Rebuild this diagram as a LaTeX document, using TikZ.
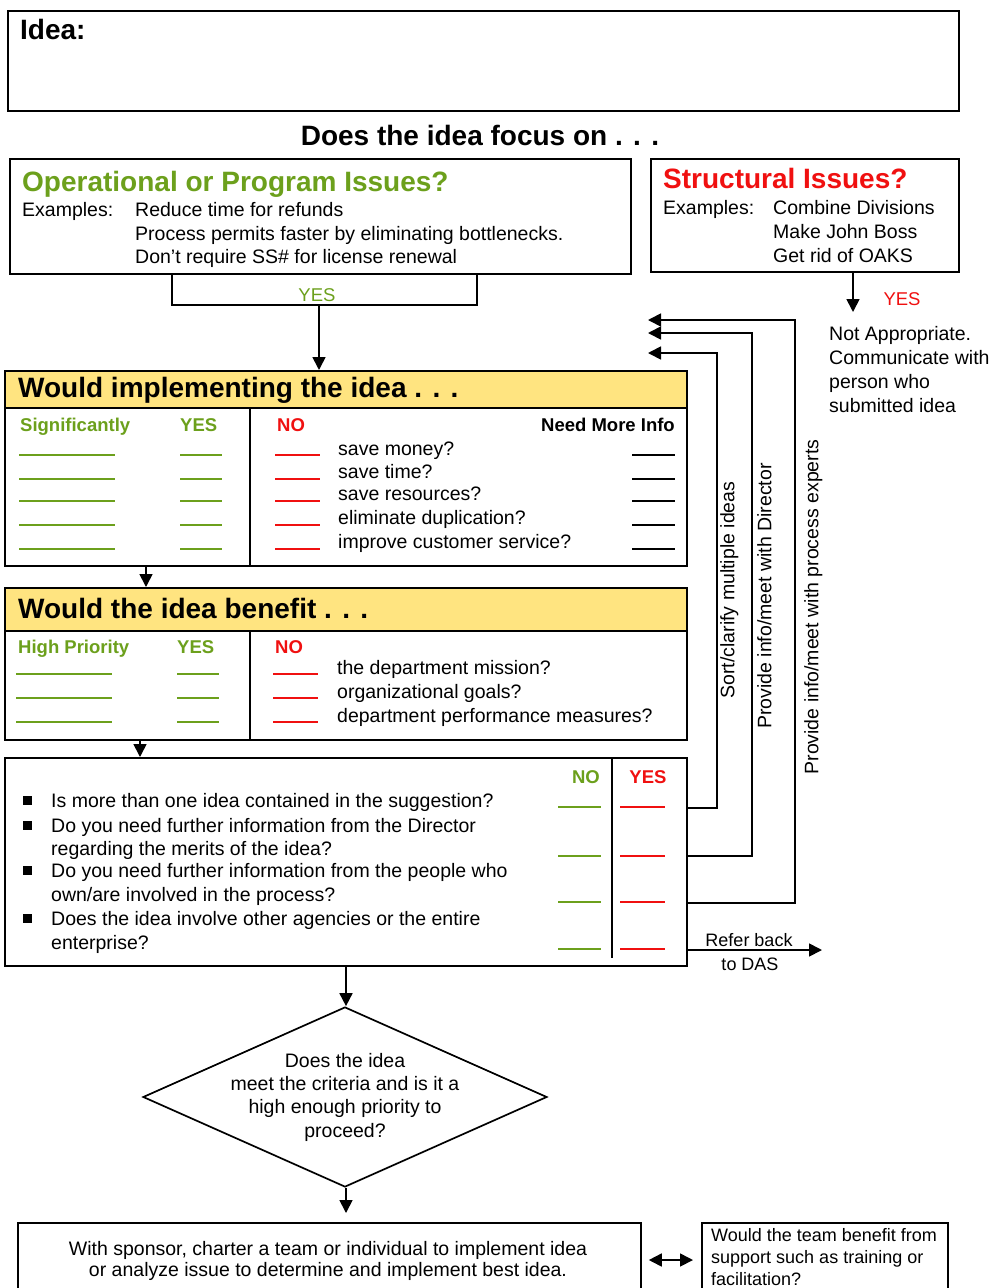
\documentclass[tikz,border=0pt]{standalone}
\usepackage{fontspec}
\setmainfont{Liberation Sans}
\usetikzlibrary{arrows.meta,shapes.geometric}
\definecolor{okgreen}{RGB}{108,160,28}
\definecolor{nored}{RGB}{240,16,16}
\definecolor{hdryellow}{RGB}{255,228,128}
\newcommand\bodysize{\fontsize{19.5}{23.5}\selectfont}
\newcommand\smallbody{\fontsize{18}{22}\selectfont}
\newcommand\labsize{\fontsize{18.5}{22}\selectfont}
\newcommand\headsize{\fontsize{28}{32}\selectfont}

\begin{document}
\begin{tikzpicture}[x=1pt,y=-1pt,
  frame/.style={draw, line width=1.8pt, inner sep=0pt, anchor=north west},
  txt/.style={anchor=base west, inner sep=0pt, font=\bodysize},
  ctxt/.style={anchor=base, inner sep=0pt, font=\bodysize},
  head/.style={anchor=base west, inner sep=0pt, font=\headsize\bfseries},
  lab/.style={anchor=base west, inner sep=0pt, font=\labsize\bfseries},
  blank/.style={line width=2pt},
  gblank/.style={blank, draw=okgreen},
  rblank/.style={blank, draw=nored},
  kblank/.style={blank, draw=black},
  conn/.style={line width=1.7pt},
  tip/.style={},
  arr/.style={conn, -{Triangle[length=13pt,width=13pt]}},
  vlab/.style={rotate=90, anchor=north, inner sep=0pt, font=\bodysize},
  bullet/.style={fill, minimum size=9pt, inner sep=0pt}
]
\clip (0,0) rectangle (993,1288);
\fill[white] (0,0) rectangle (993,1288);

% ---- idea field ----
\node[frame, minimum width=951pt, minimum height=100pt] (idea) at (7,10) {};
\node[head] (ideat) at (20,39) {Idea:};
\node[anchor=base, inner sep=0pt, font=\headsize\bfseries] (focus) at (480,145) {Does the idea focus on . . .};

% ---- operational issues ----
\node[frame, minimum width=621pt, minimum height=115pt] (ops) at (9,158) {};
\node[head, text=okgreen] (opst) at (22,191) {Operational or Program Issues?};
\node[txt] (opsex) at (22,216) {Examples:};
\node[txt] (ops1) at (135,216) {Reduce time for refunds};
\node[txt] (ops2) at (135,240) {Process permits faster by eliminating bottlenecks.};
\node[txt] (ops3) at (135,263) {Don't require SS\# for license renewal};

% ---- structural issues ----
\node[frame, minimum width=308pt, minimum height=113pt] (str) at (650,158) {};
\node[head, text=nored] (strt) at (663,188) {Structural Issues?};
\node[txt] (strex) at (663,214) {Examples:};
\node[txt] (str1) at (773,214) {Combine Divisions};
\node[txt] (str2) at (773,238) {Make John Boss};
\node[txt] (str3) at (773,262) {Get rid of OAKS};

% ---- not appropriate ----
\node[txt] (na1) at (829,340) {Not Appropriate.};
\node[txt] (na2) at (829,364) {Communicate with};
\node[txt] (na3) at (829,388) {person who};
\node[txt] (na4) at (829,412) {submitted idea};

% ---- implementing checklist ----
\node[frame, fill=hdryellow, minimum width=682pt, minimum height=37pt] (implh) at (4,370) {};
\node[frame, minimum width=682pt, minimum height=195pt] (impl) at (4,370) {};
\node[head] (implt) at (18,397) {Would implementing the idea . . .};
\coordinate (dv) at (250,0);
\draw[line width=1.8pt] (implh.south -| dv) -- (impl.south -| dv);
\node[lab, text=okgreen] (isig) at (20,431) {Significantly};
\node[lab, text=okgreen] (iyes) at (180,431) {YES};
\node[lab, text=nored] (ino) at (277,431) {NO};
\node[lab, anchor=base east] (imore) at (675,431) {Need More Info};
\foreach \y in {455,479,501,525,549} {
  \draw[gblank] (19,\y) -- (115,\y);
  \draw[gblank] (180,\y) -- (222,\y);
  \draw[rblank] (275,\y) -- (320,\y);
  \draw[kblank] (632,\y) -- (675,\y);
}
\node[txt] (is1) at (338,455) {save money?};
\node[txt] (is2) at (338,478) {save time?};
\node[txt] (is3) at (338,500) {save resources?};
\node[txt] (is4) at (338,524) {eliminate duplication?};
\node[txt] (is5) at (338,548) {improve customer service?};

% ---- benefit checklist ----
\node[frame, fill=hdryellow, minimum width=682pt, minimum height=43pt] (benh) at (4,587) {};
\node[frame, minimum width=682pt, minimum height=152pt] (ben) at (4,587) {};
\node[head] (bent) at (18,618) {Would the idea benefit . . .};
\draw[line width=1.8pt] (benh.south -| dv) -- (ben.south -| dv);
\node[lab, text=okgreen] (bhp) at (18,653) {High Priority};
\node[lab, text=okgreen] (byes) at (177,653) {YES};
\node[lab, text=nored] (bno) at (275,653) {NO};
\foreach \y in {674,698,722} {
  \draw[gblank] (16,\y) -- (112,\y);
  \draw[gblank] (177,\y) -- (219,\y);
  \draw[rblank] (273,\y) -- (318,\y);
}
\node[txt] (bs1) at (337,674) {the department mission?};
\node[txt] (bs2) at (337,698) {organizational goals?};
\node[txt] (bs3) at (337,722) {department performance measures?};

% ---- screening questions ----
\node[frame, minimum width=682pt, minimum height=208pt] (q) at (4,757) {};
\draw[line width=1.8pt] (612,757) -- (612,958);
\node[lab, anchor=base, text=okgreen] (qno) at (586,783) {NO};
\node[lab, anchor=base, text=nored] (qyes) at (648,783) {YES};
\node[bullet] (qb1) at (27,800) {};
\node[bullet] (qb2) at (27,825) {};
\node[bullet] (qb3) at (27,870) {};
\node[bullet] (qb4) at (27,918) {};
\node[txt] (q1) at (51,807) {Is more than one idea contained in the suggestion?};
\node[txt] (q2a) at (51,832) {Do you need further information from the Director};
\node[txt] (q2b) at (51,855) {regarding the merits of the idea?};
\node[txt] (q3a) at (51,877) {Do you need further information from the people who};
\node[txt] (q3b) at (51,901) {own/are involved in the process?};
\node[txt] (q4a) at (51,925) {Does the idea involve other agencies or the entire};
\node[txt] (q4b) at (51,949) {enterprise?};
\foreach \y in {807,856,902,949} {
  \draw[gblank] (558,\y) -- (601,\y);
  \draw[rblank] (620,\y) -- (665,\y);
}

% ---- flow between the sections ----
\coordinate (bl) at (172,305);
\coordinate (br) at (477,305);
\coordinate (bm) at (319,305);
\draw[conn] (ops.south -| bl) -- (bl) -- (br) -- (ops.south -| br);
\node[anchor=base, inner sep=0pt, font=\labsize, text=okgreen] (opsyes) at (317,301) {YES};
\draw[arr] (bm) -- (implh.north -| bm);

\coordinate (sy) at (853,312);
\draw[arr] (str.south -| sy) -- (sy);
\node[anchor=base, inner sep=0pt, font=\labsize, text=nored] (stryes) at (902,305) {YES};

\coordinate (a1) at (146,0);
\draw[arr] (impl.south -| a1) -- (benh.north -| a1);
\coordinate (a2) at (140,0);
\draw[arr] (ben.south -| a2) -- (q.north -| a2);

% ---- loops back to the top ----
\coordinate (f1) at (717,808);
\coordinate (f2) at (752,856);
\coordinate (f3) at (795,903);
\coordinate (t1) at (648,353);
\coordinate (t2) at (648,333);
\coordinate (t3) at (648,320);
\draw[arr] (q.east |- f1) -- (f1) -- (f1 |- t1) -- (t1);
\draw[arr] (q.east |- f2) -- (f2) -- (f2 |- t2) -- (t2);
\draw[arr] (q.east |- f3) -- (f3) -- (f3 |- t3) -- (t3);
\node[vlab] (l1) at (720,590) {Sort/clarify multiple ideas};
\node[vlab] (l2) at (757,596) {Provide info/meet with Director};
\node[vlab] (l3) at (804,607) {Provide info/meet with process experts};

\coordinate (rb) at (822,950);
\draw[arr] (q.east |- rb) -- (rb);
\node[anchor=base, inner sep=0pt, font=\smallbody] (rb1) at (749,946) {Refer back};
\node[anchor=base, inner sep=0pt, font=\smallbody] (rb2) at (750,970) {to DAS};

% ---- decision ----
\node[diamond, draw, line width=1.7pt, minimum width=404pt, minimum height=180pt, inner sep=0pt] (dia) at (345,1097) {};
\node[ctxt] (d1) at (345,1067) {Does the idea};
\node[ctxt] (d2) at (345,1090) {meet the criteria and is it a};
\node[ctxt] (d3) at (345,1113) {high enough priority to};
\node[ctxt] (d4) at (345,1137) {proceed?};
\coordinate (dx) at (346,0);
\draw[arr] (q.south -| dx) -- (dia.north -| dx);

% ---- charter ----
\node[frame, minimum width=623pt, minimum height=100pt] (bot) at (17,1222) {};
\node[ctxt] (c1) at (328,1255) {With sponsor, charter a team or individual to implement idea};
\node[ctxt] (c2) at (328,1276) {or analyze issue to determine and implement best idea.};
\draw[arr, shorten >=9pt] (dia.south -| dx) -- (bot.north -| dx);

\node[frame, minimum width=246pt, minimum height=100pt] (sup) at (701,1222) {};
\node[txt, font=\smallbody] (s1) at (711,1241) {Would the team benefit from};
\node[txt, font=\smallbody] (s2) at (711,1263) {support such as training or};
\node[txt, font=\smallbody] (s3) at (711,1285) {facilitation?};

\coordinate (dy) at (0,1260);
\draw[conn, {Triangle[length=13pt,width=13pt]}-{Triangle[length=13pt,width=13pt]}, shorten <=7pt, shorten >=8pt] (bot.east |- dy) -- (sup.west |- dy);
\end{tikzpicture}
\end{document}
